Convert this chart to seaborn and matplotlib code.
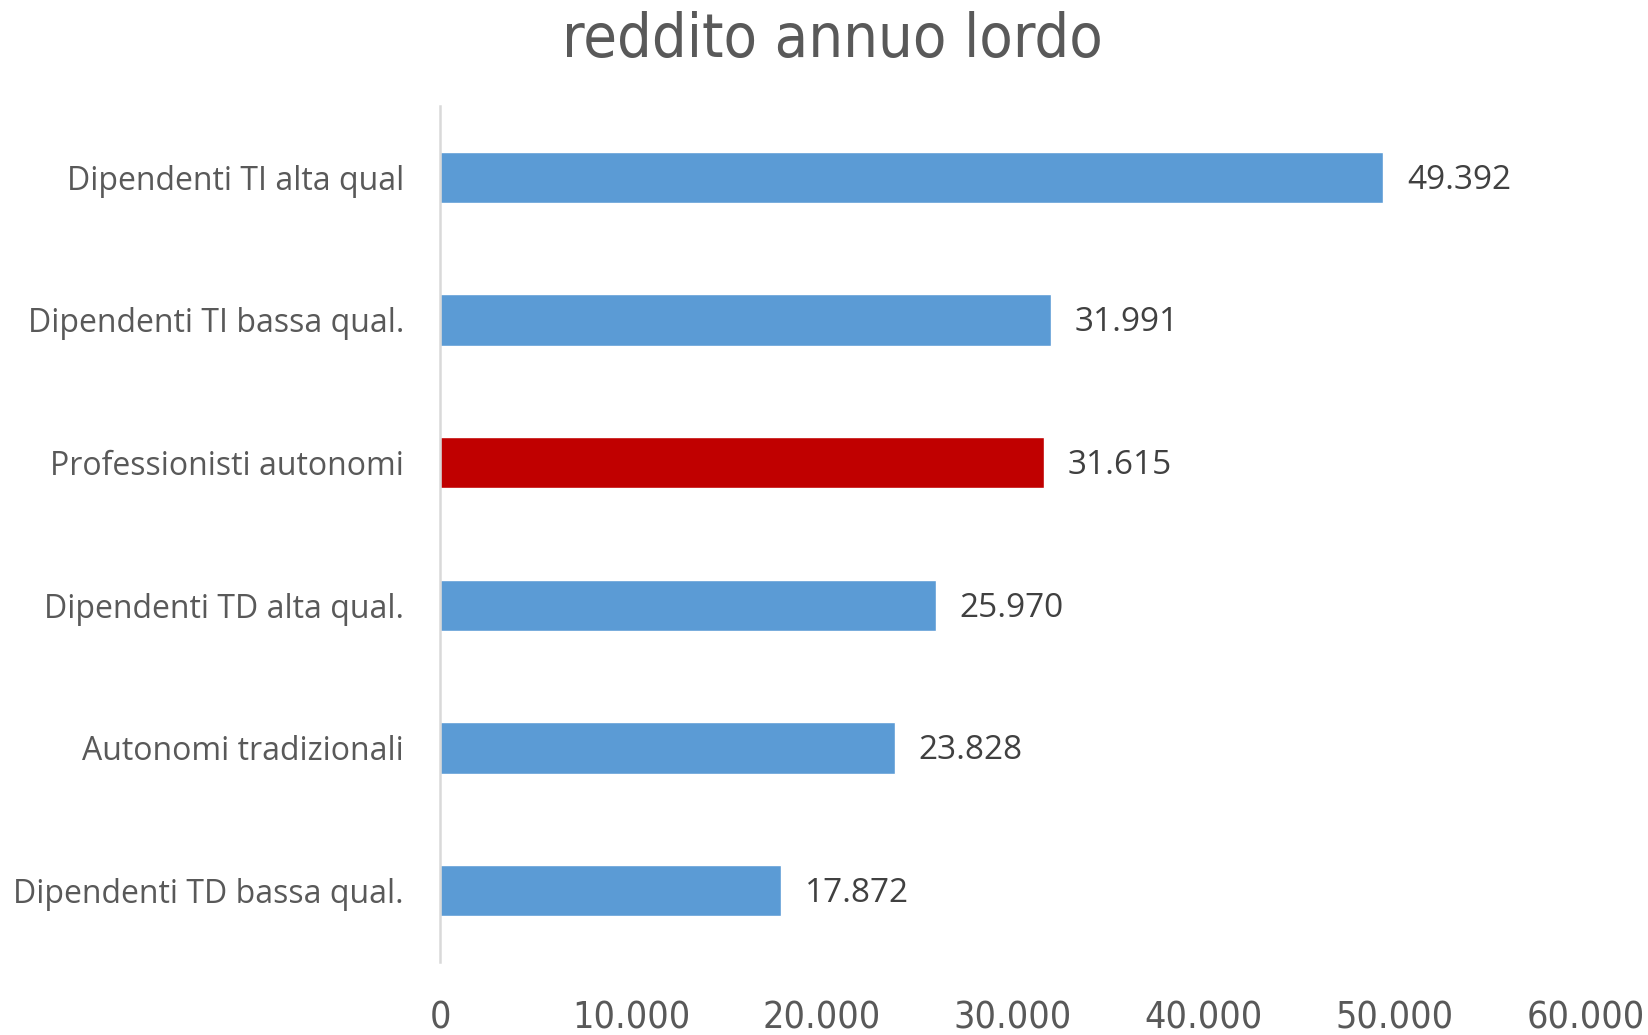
import matplotlib
matplotlib.use("Agg")
import matplotlib.pyplot as plt
import seaborn as sns
import pandas as pd

categories = ["Dipendenti TI alta qual", "Dipendenti TI bassa qual.", "Professionisti autonomi",
              "Dipendenti TD alta qual.", "Autonomi tradizionali", "Dipendenti TD bassa qual."]
values = [49392, 31991, 31615, 25970, 23828, 17872]
value_labels = ["49.392", "31.991", "31.615", "25.970", "23.828", "17.872"]
tick_values = [0, 10000, 20000, 30000, 40000, 50000, 60000]
tick_labels = ["0", "10.000", "20.000", "30.000", "40.000", "50.000", "60.000"]
title = "reddito annuo lordo"

blue = "#5B9BD5"
red = "#C00000"
colors = [blue, blue, red, blue, blue, blue]

sns.set_theme(style="white")
plt.rcParams["font.family"] = ["Open Sans", "DejaVu Sans"]

df = pd.DataFrame({"cat": categories, "val": values})

fig = plt.figure(figsize=(16.48, 10.35), dpi=100)
W, H = 1648, 1035
ax = fig.add_axes([440 / W, 1 - 962 / H, (1586 - 440) / W, (962 - 106) / H])

sns.barplot(data=df, y="cat", x="val", hue="cat", palette=colors, order=categories,
            hue_order=categories, orient="h", width=0.358, legend=False, ax=ax,
            saturation=1, dodge=False)

ax.set_xlim(0, 60000)
ax.set_ylim(5.5, -0.5)
ax.set_xticks(tick_values)
ax.set_xticklabels(tick_labels, fontsize=27, color="#595959", family="DejaVu Sans",
                   fontstretch="condensed")
ax.set_yticks(range(len(categories)))
ax.set_yticklabels(categories, fontsize=23, color="#595959")
ax.tick_params(axis="x", length=0, pad=28)
ax.tick_params(axis="y", length=0, pad=26)
ax.set_xlabel("")
ax.set_ylabel("")

for s in ["top", "right", "bottom"]:
    ax.spines[s].set_visible(False)
ax.spines["left"].set_color("#D9D9D9")
ax.spines["left"].set_linewidth(1.8)
ax.grid(False)

for i, (v, lab) in enumerate(zip(values, value_labels)):
    ax.annotate(lab, xy=(v, i), xytext=(17, -2), textcoords="offset points",
                ha="left", va="center", fontsize=24, color="#404040")

fig.text(832 / W, 1 - 57 / H, title, ha="center", va="baseline", fontsize=44,
         color="#595959", family="DejaVu Sans", fontstretch="condensed")

fig.savefig("out.png", dpi=100, facecolor="white")
